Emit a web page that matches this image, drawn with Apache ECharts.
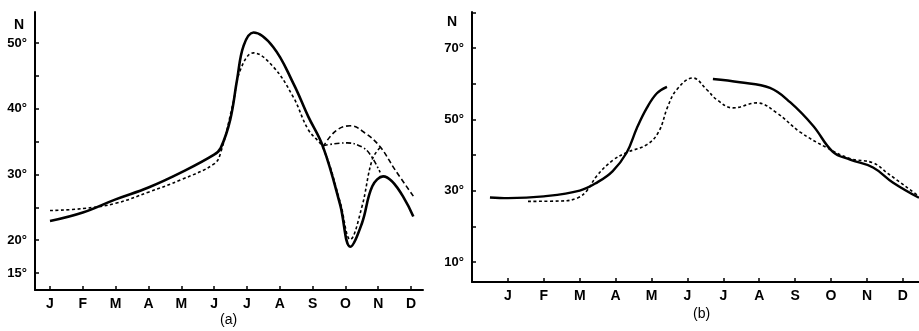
<!DOCTYPE html>
<html>
<head>
<meta charset="utf-8">
<script src="https://cdn.jsdelivr.net/npm/echarts@6/dist/echarts.min.js"></script>
<style>
  html, body { margin: 0; padding: 0; background: #fff; }
  #chart { width: 919px; height: 331px; }
</style>
</head>
<body>
<div id="chart"></div>
<script>
// month labels, x = month index (0 = J ... 11 = D)
const months = ['J', 'F', 'M', 'A', 'M', 'J', 'J', 'A', 'S', 'O', 'N', 'D'];
const monthIdx = [0, 1, 2, 3, 4, 5, 6, 7, 8, 9, 10, 11];

// panel (a) latitude ticks
const aTicks = [15, 20, 25, 30, 35, 40, 45, 50];
const aLabels = [15, 20, 30, 40, 50];
// panel (b) latitude ticks
const bTicks = [10, 20, 30, 40, 50, 60, 70, 80];
const bLabels = [10, 30, 50, 70];

// panel (a) curves [month, latitude]
const aSolid = [[0, 22.9], [1, 24.2], [2, 26.2], [3, 28.0], [4, 30.3], [5.0, 33.0], [5.2, 34.0],
  [5.49, 38.3], [5.7, 44.4], [5.9, 49.6], [6.2, 51.6], [6.8, 49.4], [7.41, 43.9], [7.87, 38.8],
  [8.32, 34.2], [8.84, 25.4], [9.15, 19.0], [9.5, 22.5], [9.82, 28.2], [10.15, 29.7], [11.07, 23.6]];
const aShort = [[0, 24.5], [1, 24.8], [2, 25.6], [3, 27.3], [4, 29.2], [5.0, 31.6], [5.2, 33.3],
  [5.58, 40.9], [5.8, 45.9], [6.2, 48.5], [6.8, 46.4], [7.41, 41.8], [7.87, 36.8], [8.32, 34.0],
  [8.84, 25.8], [9.15, 20.1], [9.5, 25.0], [9.82, 32.3], [10.06, 34.1]];
const aLong = [[8.32, 34.2], [8.7, 36.6], [9.15, 37.4], [9.6, 36.3], [10.06, 34.2], [10.5, 30.8], [11.07, 26.7]];
const aDashDot = [[8.32, 34.4], [9.05, 34.8], [9.5, 34.2], [9.76, 33.0], [10.06, 30.3]];

// panel (b) curves [month, latitude]
const bSolid1 = [[-0.5, 28.1], [0, 27.9], [1, 28.4], [2, 30.0], [2.5, 32.4], [2.92, 35.5],
  [3.31, 40.7], [3.59, 47.5], [3.87, 53.2], [4.15, 57.3], [4.43, 59.1]];
const bSolid2 = [[5.71, 61.3], [6.46, 60.4], [7.3, 58.8], [7.86, 54.8], [8.5, 48.2], [9.05, 40.9],
  [9.53, 38.7], [10.17, 36.5], [10.72, 32.3], [11.45, 28.0]];
const bDashed = [[0.56, 27.0], [1.5, 27.1], [1.95, 28.0], [2.2, 30.0], [2.48, 34.2], [2.92, 38.5],
  [3.31, 40.7], [3.87, 42.9], [4.2, 46.5], [4.45, 53.5], [4.7, 58.3], [5.15, 61.6], [5.54, 58.3],
  [5.82, 55.5], [6.27, 53.2], [6.93, 54.6], [7.49, 51.8], [8.13, 46.5], [8.89, 42.0], [9.53, 39.0],
  [10.17, 37.8], [10.56, 35.0], [11.45, 28.4]];

const font = 'Liberation Sans, Arial, sans-serif';
const chart = echarts.init(document.getElementById('chart'));

function xAxisFor(gridIndex, min, max) {
  return {
    type: 'value', gridIndex, min, max,
    axisLine: { onZero: false, lineStyle: { color: '#000', width: 2 } },
    splitLine: { show: false },
    axisTick: { inside: true, length: 4, customValues: monthIdx, lineStyle: { color: '#000', width: 1.5 } },
    axisLabel: {
      customValues: monthIdx, formatter: v => months[Math.round(v)], margin: 7,
      color: '#000', fontFamily: font, fontWeight: 'bold', fontSize: 14
    }
  };
}

function yAxisFor(gridIndex, min, max, ticks, labels) {
  return {
    type: 'value', gridIndex, min, max,
    axisLine: { show: true, onZero: false, lineStyle: { color: '#000', width: 2 } },
    splitLine: { show: false },
    axisTick: { inside: true, length: 4, customValues: ticks, lineStyle: { color: '#000', width: 1.5 } },
    axisLabel: {
      customValues: labels, formatter: v => v + '°', margin: 8,
      color: '#000', fontFamily: font, fontWeight: 'bold', fontSize: 13
    }
  };
}

function line(data, xi, type, width) {
  return {
    type: 'line', xAxisIndex: xi, yAxisIndex: xi, data,
    smooth: 0.4, showSymbol: false, symbol: 'none', silent: true,
    lineStyle: { color: '#000', width, type }
  };
}

chart.setOption({
  animation: false,
  backgroundColor: '#fff',
  grid: [
    { left: 35, top: 12, width: 388, height: 278 },
    { left: 472, top: 12, width: 447, height: 270 }
  ],
  xAxis: [xAxisFor(0, -0.457, 11.365), xAxisFor(1, -1.0, 11.45)],
  yAxis: [yAxisFor(0, 12.41, 54.72, aTicks, aLabels), yAxisFor(1, 4.39, 80.09, bTicks, bLabels)],
  series: [
    line(aSolid, 0, 'solid', 2.6),
    line(aShort, 0, [3, 2.5], 1.6),
    line(aLong, 0, [5, 3], 1.6),
    line(aDashDot, 0, [5, 2.5, 1.5, 2.5], 1.6),
    line(bSolid1, 1, 'solid', 2.4),
    line(bSolid2, 1, 'solid', 2.4),
    line(bDashed, 1, [3, 2.5], 1.6)
  ],
  graphic: [
    { type: 'text', left: 14, top: 18, style: { text: 'N', font: 'bold 14px ' + font, fill: '#000' } },
    { type: 'text', left: 447, top: 15, style: { text: 'N', font: 'bold 14px ' + font, fill: '#000' } },
    { type: 'text', left: 220, top: 313, style: { text: '(a)', font: '14px ' + font, fill: '#000' } },
    { type: 'text', left: 693, top: 307, style: { text: '(b)', font: '14px ' + font, fill: '#000' } }
  ]
});
</script>
</body>
</html>
